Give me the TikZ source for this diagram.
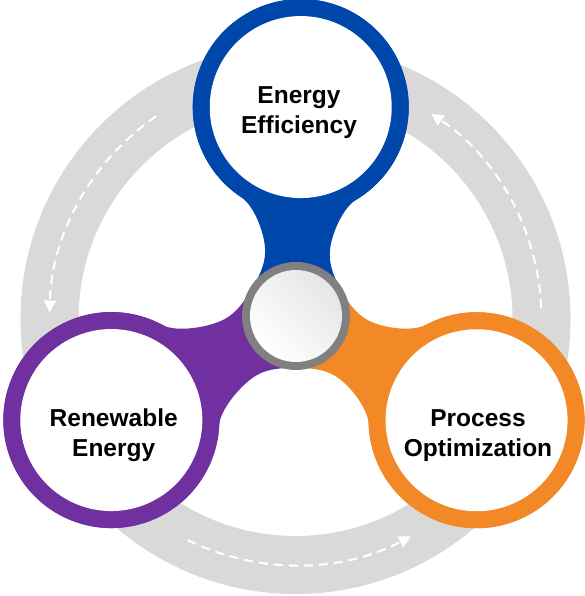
\documentclass[tikz,border=0pt]{standalone}
\usepackage{fontspec}
\setmainfont{Liberation Sans}
\usetikzlibrary{arrows.meta}
\definecolor{ringgray}{HTML}{D9D9D9}
\definecolor{armblue}{RGB}{0,71,171}
\definecolor{armpurple}{RGB}{112,48,160}
\definecolor{armorange}{RGB}{243,136,38}
\definecolor{hubgray}{RGB}{128,128,128}
\begin{document}
\begin{tikzpicture}[x=1pt,y=1pt,
  armlabel/.style={font=\bfseries\fontsize{24.5}{30}\selectfont, align=center, inner sep=0pt, text=black},
  flow/.style={white, line width=2.1pt, dash pattern=on 9pt off 6pt, -{Triangle[length=12pt,width=12pt]}},
  armpath/.style={insert path={(0,0) -- (30:52) .. controls (39,36.4) and (32.3,49) .. (32.3,63)
     .. controls (32.3,81) and (44.5,{#1-99.6}) .. (57.2,{#1-91.6})
     arc[start angle=-58, end angle=238, radius=108]
     .. controls (-44.5,{#1-99.6}) and (-32.3,81) .. (-32.3,63)
     .. controls (-32.3,49) and (-39,36.4) .. (150:52) -- cycle}},
]
\useasboundingbox (0,0) rectangle (584,596);
\fill[white] (0,0) rectangle (584,596);
\coordinate (O) at (296,280);
\coordinate (RC) at (295.5,277);
% background ring
\fill[ringgray, even odd rule] (RC) circle[radius=275] (RC) circle[radius=217];
% dashed flow arrows
\coordinate (f1s) at ([shift={(124.5:246)}]RC);
\coordinate (f2s) at ([shift={(244:246)}]RC);
\coordinate (f3s) at ([shift={(2.5:246)}]RC);
\draw[flow] (f1s) arc[start angle=124.5, end angle=178.5, radius=246];
\draw[flow] (f2s) arc[start angle=244, end angle=298, radius=246];
\draw[flow] (f3s) arc[start angle=2.5, end angle=56.5, radius=246];
% arms
\begin{scope}[shift={(O)}, rotate=-1.3]
  \fill[armblue, armpath=209];
  \fill[armblue] (0,209) circle[radius=108];
  \fill[white] (0,209) circle[radius=91];
\end{scope}
\begin{scope}[shift={(O)}, rotate=119.4]
  \fill[armpurple, armpath=212];
  \fill[armpurple] (0,212) circle[radius=108];
  \fill[white] (0,212) circle[radius=91];
\end{scope}
\begin{scope}[shift={(O)}, rotate=240]
  \fill[armorange, armpath=208.5];
  \fill[armorange] (0,208.5) circle[radius=108];
  \fill[white] (0,208.5) circle[radius=91];
\end{scope}
% hub
\fill[hubgray] (O) circle[radius=54];
\shade[top color=gray!20, bottom color=white, shading angle=-45] (O) circle[radius=46];
% labels
\node[armlabel] (ee) at (299,483.8) {Energy\\Efficiency};
\node[armlabel] (re) at (113.7,160.4) {Renewable\\Energy};
\node[armlabel] (po) at (478,160.4) {Process\\Optimization};
\end{tikzpicture}
\end{document}
